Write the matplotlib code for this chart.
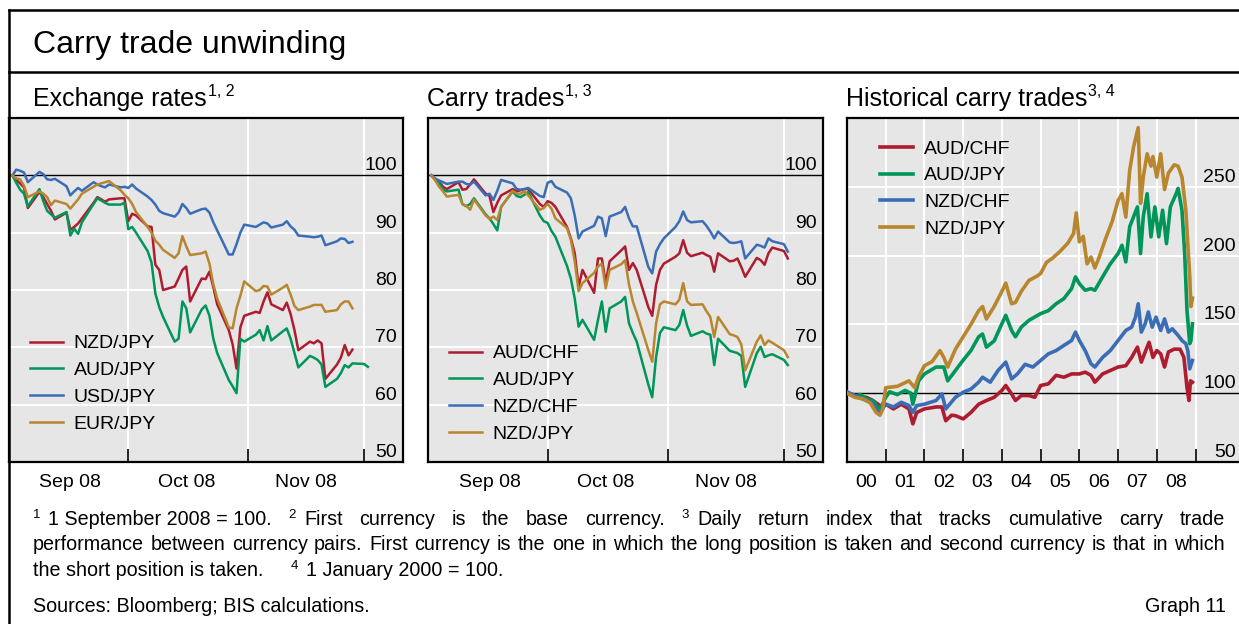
import numpy as np
import pandas as pd
import matplotlib
matplotlib.use('Agg')
import matplotlib.pyplot as plt
from matplotlib.lines import Line2D

plt.rcParams['font.family'] = ['Liberation Sans', 'DejaVu Sans']

# business days shown in the two short panels (Sep 1 - Dec 2, 2008)
days = pd.bdate_range('2008-09-01', '2008-12-02')
nan = np.nan

# Exchange rates, 1 Sep 2008 = 100
fx_nzdjpy = [100, 99.2, 98.6, 97.9, 94.3, 97.1, 96.2, 95.0, 93.8, 92.3, 93.5, 90.5, 91.0, 91.6, 92.5, 95.2, 96.2, 95.8, 95.4, 95.8, 96.0, 96.0,
             92.0, 93.3, 93.0, 91.1, 91.0, 84.4, 83.5, 80.0, 80.6, 82.0, 83.5, 84.1, 78.0, 82.0, 81.9, 83.2, 80.5, 77.5, 73.0, 70.5, 66.3, 73.5, 75.5,
             76.2, 76.0, 78.0, 79.6, 77.5, 76.5, 77.8, 75.8, 73.0, 69.5, 71.0, 70.7, 71.2, 70.7, 64.5, 67.0, 68.2, 70.4, 68.6, 69.6,
             nan, nan]
fx_audjpy = [100, 98.7, 97.5, 96.8, 94.6, 97.6, 95.5, 93.8, 93.2, 92.6, 93.6, 89.5, 90.7, 89.8, 91.8, 95.0, 96.0, 95.6, 95.2, 94.9, 94.9, 95.2,
             90.6, 91.0, 90.0, 86.8, 84.8, 79.4, 77.0, 75.3, 71.0, 71.5, 78.0, 76.8, 72.6, 76.6, 77.3, 75.5, 71.5, 69.0, 64.3, 63.2, 62.0, 71.5, 71.0,
             72.2, 73.0, 71.2, 73.7, 71.2, 72.8, 73.3, 71.5, 69.0, 66.5, 68.5, 68.2, 67.8, 67.0, 63.1, 64.5, 65.5, 66.9, 66.5, 67.2,
             67.1, 66.6]
fx_usdjpy = [100, 101.0, 100.8, 100.5, 98.8, 100.6, 100.2, 99.3, 99.2, 99.4, 98.1, 96.5, 97.2, 97.8, 97.3, 98.8, 98.4, 98.1, 97.9, 98.4, 97.9, 98.0,
             97.8, 98.4, 97.7, 96.3, 95.7, 94.9, 93.8, 93.4, 92.8, 93.5, 95.0, 94.3, 93.3, 94.1, 94.2, 93.5, 91.8, 90.4, 86.2, 86.2, 88.0, 90.0, 91.4,
             91.0, 91.4, 91.8, 91.6, 90.9, 91.4, 92.0, 91.1, 90.5, 89.5, 89.3, 89.2, 89.3, 89.5, 87.8, 88.5, 89.0, 88.9, 88.2, 88.4,
             nan, nan]
fx_eurjpy = [100, 99.5, 99.3, 98.2, 96.2, 97.2, 96.8, 96.2, 94.8, 95.6, 95.0, 94.2, 95.0, 95.8, 96.8, 98.0, 98.4, 98.6, 98.8, 99.0, 97.4, 96.6,
             96.0, 95.0, 93.6, 91.0, 90.0, 88.6, 87.9, 87.0, 85.6, 86.4, 89.4, 87.6, 86.1, 86.4, 86.7, 84.6, 81.0, 78.5, 73.5, 73.3, 76.8, 79.0, 81.5,
             79.8, 80.0, 80.7, 80.6, 79.2, 80.4, 80.9, 79.2, 77.2, 76.5, 77.1, 77.4, 77.4, 77.4, 76.2, 76.5, 77.5, 78.0, 78.0, 76.8,
             nan, nan]

# Carry trades, 1 Sep 2008 = 100
ct_audchf = [100, 99.3, 98.9, 98.0, 97.6, 98.8, 97.5, 97.6, 98.4, 99.3, 96.8, 96.4, 93.6, 95.2, 96.5, 97.6, 97.2, 97.4, 97.6, 97.6, 95.0, 94.5,
             95.5, 95.2, 94.5, 91.0, 89.0, 86.4, 80.6, 83.5, 79.5, 85.5, 85.5, 81.2, 85.0, 86.9, 87.6, 83.5, 84.7, 83.5, 77.0, 75.5, 80.9, 83.5, 84.6,
             85.8, 86.4, 88.7, 86.5, 85.9, 86.5, 86.1, 85.8, 83.2, 86.4, 85.0, 85.1, 85.5, 84.0, 82.3, 85.6, 85.2, 84.4, 86.4, 87.4,
             86.8, 85.5]
ct_audjpy = [100, 99.3, 98.7, 97.5, 97.2, 97.5, 95.0, 94.6, 95.0, 96.0, 93.2, 92.5, 91.5, 90.4, 94.5, 97.2, 96.4, 96.2, 96.6, 97.1, 93.0, 92.0,
             91.7, 90.3, 89.3, 84.2, 82.0, 78.5, 73.6, 74.8, 71.3, 74.8, 78.0, 72.7, 76.8, 78.0, 78.8, 74.2, 72.5, 71.0, 63.5, 61.3, 68.3, 72.5, 73.5,
             73.0, 73.9, 76.5, 73.8, 72.0, 72.8, 72.4, 72.2, 66.9, 71.5, 69.4, 69.2, 69.0, 68.5, 63.1, 69.0, 70.1, 68.3, 68.6, 68.8,
             67.8, 66.9]
ct_nzdchf = [100, 99.4, 99.1, 98.8, 98.5, 98.9, 98.9, 98.5, 98.4, 98.9, 96.5, 96.8, 95.7, 97.3, 99.2, 98.6, 97.6, 97.5, 97.6, 97.8, 96.4, 96.2,
             98.7, 99.0, 98.0, 97.0, 96.0, 93.0, 89.0, 90.2, 91.2, 92.8, 92.5, 89.4, 92.8, 93.6, 94.5, 92.5, 91.1, 91.1, 84.0, 82.9, 86.7, 88.0, 89.0,
             91.0, 92.0, 93.7, 92.2, 91.8, 92.0, 91.2, 90.2, 89.0, 90.2, 88.3, 88.2, 88.3, 88.5, 85.5, 87.9, 87.7, 87.4, 89.0, 88.5,
             88.0, 86.7]
ct_nzdjpy = [100, 99.1, 98.0, 97.2, 96.3, 96.6, 95.0, 94.7, 94.0, 95.8, 93.0, 92.4, 92.8, 92.2, 94.5, 97.3, 96.8, 96.8, 97.2, 96.5, 94.0, 94.3,
             95.0, 94.2, 92.5, 90.8, 88.8, 85.0, 79.8, 81.2, 83.0, 84.1, 84.6, 80.3, 83.5, 84.5, 85.2, 81.0, 78.0, 76.0, 69.5, 67.5, 74.2, 77.5, 78.0,
             77.5, 78.3, 81.2, 78.0, 77.4, 77.5, 76.3, 75.3, 71.8, 75.3, 72.3, 72.1, 71.8, 70.5, 66.0, 71.0, 72.1, 70.4, 71.2, 70.8,
             69.5, 68.3]

# Historical carry trades, 1 Jan 2000 = 100 (year, index)
hist_audchf = [(2000.0, 100), (2000.15, 99), (2000.3, 97), (2000.5, 97), (2000.65, 95), (2000.8, 92), (2000.9, 90), (2001.0, 92),
               (2001.2, 88.6), (2001.4, 92), (2001.6, 88.6), (2001.7, 77.7), (2001.8, 86), (2002.0, 88.6), (2002.3, 90), (2002.45, 90),
               (2002.55, 80), (2002.7, 84), (2002.8, 83.7), (2003.0, 81.3), (2003.2, 86), (2003.4, 92), (2003.6, 94.7), (2003.8, 97),
               (2004.0, 102), (2004.1, 105.6), (2004.25, 99.5), (2004.35, 94.7), (2004.5, 98.3), (2004.7, 98.3), (2004.85, 97),
               (2005.0, 105.6), (2005.2, 106.8), (2005.4, 113), (2005.6, 111.6), (2005.8, 114), (2006.0, 114), (2006.15, 115.3),
               (2006.3, 113), (2006.4, 108), (2006.6, 114), (2006.8, 116.5), (2007.0, 119), (2007.2, 120), (2007.35, 126),
               (2007.5, 133.5), (2007.6, 122.6), (2007.7, 130), (2007.8, 137), (2007.9, 126), (2008.0, 131), (2008.1, 128.6),
               (2008.2, 119), (2008.3, 130), (2008.45, 132), (2008.6, 132), (2008.7, 126), (2008.78, 104), (2008.83, 94.7),
               (2008.87, 109), (2008.92, 108)]
hist_audjpy = [(2000.0, 100), (2000.2, 98), (2000.35, 99), (2000.5, 96), (2000.7, 94), (2000.8, 89), (2000.9, 91), (2001.0, 97),
               (2001.1, 101), (2001.3, 99), (2001.5, 102), (2001.65, 100), (2001.7, 92), (2001.85, 109), (2002.0, 114), (2002.3, 119),
               (2002.5, 119), (2002.6, 109), (2002.8, 116.5), (2003.0, 124), (2003.2, 131), (2003.4, 141), (2003.5, 143),
               (2003.6, 133.5), (2003.8, 138), (2004.0, 150.5), (2004.1, 156.6), (2004.25, 145.6), (2004.35, 141), (2004.5, 148),
               (2004.7, 153), (2005.0, 157.8), (2005.2, 160), (2005.4, 165), (2005.6, 168.7), (2005.8, 176), (2005.9, 184.5),
               (2006.0, 179.6), (2006.15, 174.8), (2006.3, 176), (2006.4, 174.8), (2006.6, 184.5), (2006.8, 194), (2007.0, 201.5),
               (2007.1, 207.5), (2007.2, 195.4), (2007.3, 221), (2007.5, 235.4), (2007.58, 201.5), (2007.65, 228), (2007.75, 245),
               (2007.85, 213.6), (2007.95, 235.4), (2008.05, 213.6), (2008.15, 233), (2008.25, 208.7), (2008.35, 235.4),
               (2008.5, 245), (2008.55, 248.8), (2008.65, 233), (2008.72, 201.5), (2008.78, 160), (2008.85, 136), (2008.88, 138),
               (2008.92, 150.5)]
hist_nzdchf = [(2000.0, 101), (2000.15, 99), (2000.3, 97), (2000.5, 94.7), (2000.65, 93), (2000.8, 86), (2000.9, 88), (2001.0, 92),
               (2001.2, 90), (2001.4, 93.4), (2001.6, 91), (2001.7, 86), (2001.8, 91), (2002.0, 92), (2002.3, 94.7), (2002.45, 99.5),
               (2002.55, 88.6), (2002.8, 97), (2003.0, 100.7), (2003.2, 103), (2003.4, 108), (2003.5, 111.6), (2003.7, 108),
               (2003.9, 116.5), (2004.1, 122.6), (2004.25, 110.4), (2004.4, 114), (2004.6, 121), (2004.8, 119), (2005.0, 123.8),
               (2005.2, 128.6), (2005.4, 131), (2005.6, 134.7), (2005.8, 138.3), (2005.9, 144.4), (2006.0, 138.3), (2006.15, 131),
               (2006.3, 121.4), (2006.4, 119), (2006.6, 126), (2006.8, 131), (2007.0, 138.3), (2007.2, 145.6), (2007.35, 148),
               (2007.45, 155.3), (2007.52, 165), (2007.6, 144.4), (2007.7, 150.5), (2007.78, 159), (2007.88, 148), (2007.98, 155.3),
               (2008.1, 145.6), (2008.2, 154), (2008.3, 144.4), (2008.4, 146.8), (2008.55, 142), (2008.65, 138.3), (2008.75, 136),
               (2008.8, 131), (2008.85, 117.7), (2008.92, 123.8)]
hist_nzdjpy = [(2000.0, 100), (2000.2, 97), (2000.4, 96), (2000.6, 93), (2000.75, 86), (2000.85, 84), (2000.92, 88), (2001.0, 104),
               (2001.3, 105), (2001.6, 109), (2001.75, 104), (2001.85, 112), (2002.0, 120), (2002.2, 123), (2002.4, 131),
               (2002.5, 126), (2002.6, 119), (2002.8, 132), (2003.0, 141), (2003.2, 150), (2003.4, 160), (2003.5, 163),
               (2003.6, 154), (2003.8, 163), (2004.0, 174), (2004.1, 180), (2004.25, 165), (2004.35, 166), (2004.5, 174),
               (2004.7, 182), (2004.9, 185), (2005.0, 187), (2005.15, 195), (2005.3, 198), (2005.5, 203), (2005.7, 209),
               (2005.85, 216), (2005.92, 231), (2006.0, 210), (2006.1, 214), (2006.2, 194), (2006.3, 199), (2006.4, 191),
               (2006.5, 198), (2006.7, 214), (2006.85, 225), (2007.0, 240), (2007.1, 245), (2007.2, 228), (2007.3, 262),
               (2007.4, 279), (2007.52, 293), (2007.58, 238), (2007.65, 257), (2007.75, 274), (2007.85, 265), (2007.9, 272),
               (2008.0, 257), (2008.1, 274), (2008.2, 248), (2008.3, 260), (2008.45, 266), (2008.55, 265), (2008.65, 257),
               (2008.75, 233), (2008.8, 209), (2008.85, 185), (2008.88, 163), (2008.92, 169)]

fx_names = ['NZD/JPY', 'AUD/JPY', 'USD/JPY', 'EUR/JPY']
ct_names = ['AUD/CHF', 'AUD/JPY', 'NZD/CHF', 'NZD/JPY']
month_labels = ['Sep 08', 'Oct 08', 'Nov 08']
year_labels = ['00', '01', '02', '03', '04', '05', '06', '07', '08']

RED, GREEN, BLUE, GOLD = '#ae1c30', '#00965a', '#3a6db5', '#b8862e'
BG = '#e6e6e6'

W, H = 1239, 624
fig = plt.figure(figsize=(W / 100, H / 100), dpi=100)


def rect(x0, y0, x1, y1):
    return [x0 / W, 1 - y1 / H, (x1 - x0) / W, (y1 - y0) / H]


def common(ax, ylabels, grid_vals, leg_xy):
    ax.set_facecolor(BG)
    ax.set_axisbelow(True)
    for s in ax.spines.values():
        s.set_linewidth(1.6)
    ax.set_yticks([])
    for v in grid_vals:
        ax.axhline(v, color='white', lw=1.4, zorder=1)
    ax.axhline(100, color='black', lw=1.0, zorder=2)
    for v in ylabels:
        ax.annotate(str(v), xy=(1, v), xycoords=('axes fraction', 'data'), xytext=(-6, 5),
                    textcoords='offset pixels', ha='right', va='baseline', fontsize=14)
    ax.grid(axis='x', which='major', color='white', lw=1.4)
    ax.tick_params(axis='x', which='major', direction='in', length=9.5, width=1.2, labelbottom=False)
    ax.tick_params(axis='x', which='minor', length=0, pad=8.5, labelsize=14)
    ax.legend(loc='upper left', bbox_to_anchor=leg_xy, frameon=False, fontsize=14,
              handlelength=1.7, handletextpad=0.55, labelspacing=0.47, borderpad=0, borderaxespad=0)


def daily_panel(ax, series, names, colors, leg_xy):
    for vals, name, c in zip(series, names, colors):
        ax.plot(days, vals, color=c, lw=1.8, label=name, zorder=3)
    ax.set_ylim(50, 110)
    ax.set_xlim(pd.Timestamp('2008-08-31 03:00'), pd.Timestamp('2008-12-11 02:00'))
    ax.set_xticks(pd.to_datetime(['2008-10-01', '2008-11-01', '2008-12-01']))
    ax.set_xticks(pd.to_datetime(['2008-09-16', '2008-10-16', '2008-11-16']), minor=True)
    ax.set_xticklabels(month_labels, minor=True)
    common(ax, [50, 60, 70, 80, 90, 100], [60, 70, 80, 90], leg_xy)


ax1 = fig.add_axes(rect(9, 118, 403, 462))
daily_panel(ax1, [fx_nzdjpy, fx_audjpy, fx_usdjpy, fx_eurjpy], fx_names, [RED, GREEN, BLUE, GOLD], (0.053, 0.370))

ax2 = fig.add_axes(rect(428, 118, 823, 462))
daily_panel(ax2, [ct_audchf, ct_audjpy, ct_nzdchf, ct_nzdjpy], ct_names, [RED, GREEN, BLUE, GOLD], (0.053, 0.341))

ax3 = fig.add_axes(rect(847, 118, 1242, 462))
for pts, name, c in zip([hist_audchf, hist_audjpy, hist_nzdchf, hist_nzdjpy], ct_names, [RED, GREEN, BLUE, GOLD]):
    t, v = zip(*pts)
    ax3.plot(t, v, color=c, lw=2.6, label=name, zorder=3)
ax3.set_ylim(50, 300)
ax3.set_xlim(2000, 2010.2)
ax3.set_xticks(range(2001, 2010))
ax3.set_xticks(np.arange(2000.5, 2009), minor=True)
ax3.set_xticklabels(year_labels, minor=True)
common(ax3, [50, 100, 150, 200, 250], [150, 200, 250], (0.084, 0.936))

# outer frame
for xs, ys in [([9, W + 5], [10, 10]), ([9, W + 5], [72, 72]), ([9, 9], [10, H + 5])]:
    fig.add_artist(Line2D([x / W for x in xs], [1 - y / H for y in ys], color='black', lw=1.8,
                          transform=fig.transFigure, clip_on=False))

renderer = fig.canvas.get_renderer()


def put(x, y, s, size):
    return fig.text(x / W, 1 - y / H, s, fontsize=size, ha='left', va='baseline')


def width(t):
    return t.get_window_extent(renderer=renderer).width


put(33, 53, 'Carry trade unwinding', 23)
for x, title, sup in [(33, 'Exchange rates', '1, 2'), (427, 'Carry trades', '1, 3'), (846, 'Historical carry trades', '3, 4')]:
    t = put(x, 106, title, 18)
    put(x + width(t) + 1, 96, sup, 11.5)


def line(y, words, x0, x1=None, gap=6, size=14.2, sup_size=9.5):
    items = []
    for sup, word in words:
        parts = []
        if sup:
            ts = put(0, y - 7, sup, sup_size)
            parts.append((ts, width(ts) + 8))
        tw = put(0, y, word, size)
        parts.append((tw, width(tw)))
        items.append(parts)
    total = sum(w for parts in items for _, w in parts)
    if x1 is not None:
        gap = (x1 - x0 - total) / (len(items) - 1)
    x = x0
    for parts in items:
        for t, w in parts:
            t.set_x(x / W)
            x += w
        x += gap


note1 = [('1', '1 September 2008 = 100.'), ('2', 'First'), ('', 'currency'), ('', 'is'), ('', 'the'), ('', 'base'),
         ('', 'currency.'), ('3', 'Daily'), ('', 'return'), ('', 'index'), ('', 'that'), ('', 'tracks'),
         ('', 'cumulative'), ('', 'carry'), ('', 'trade')]
note2 = 'performance between currency pairs. First currency is the one in which the long position is taken and second currency is that in which'
note3 = [('', 'the short position is taken.'), ('4', '1 January 2000 = 100.')]

line(525, note1, 33, 1225)
line(550, [('', w) for w in note2.split()], 33, 1225)
line(576, note3, 33, gap=27)

put(33, 612, 'Sources: Bloomberg; BIS calculations.', 14.2)
fig.text(1226 / W, 1 - 612 / H, 'Graph 11', fontsize=14.2, ha='right', va='baseline')

fig.savefig('out.png', dpi=100)
